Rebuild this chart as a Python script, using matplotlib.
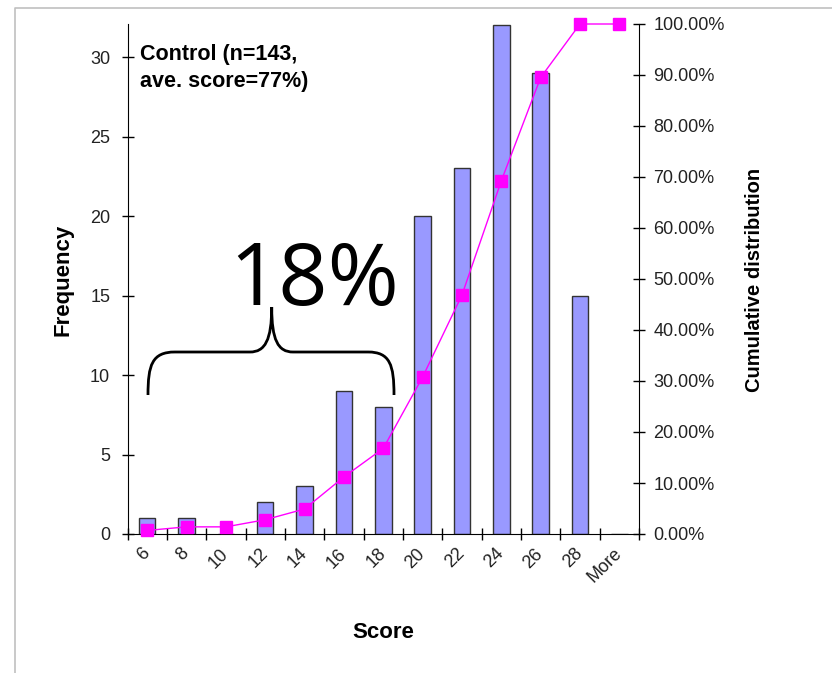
import matplotlib
matplotlib.use("Agg")
import matplotlib.pyplot as plt
import matplotlib.transforms as mtransforms
from matplotlib.path import Path
from matplotlib.patches import PathPatch
from matplotlib.lines import Line2D
from matplotlib.ticker import FixedLocator, FuncFormatter

# histogram of control group scores
bins = ["6", "8", "10", "12", "14", "16", "18", "20", "22", "24", "26", "28", "More"]
frequency = [1, 1, 0, 2, 3, 9, 8, 20, 23, 32, 29, 15, 0]
cumulative = [0.70, 1.40, 1.40, 2.80, 4.90, 11.19, 16.78, 30.77, 46.85, 69.23, 89.51, 100.0, 100.0]

W, H = 832, 673
fig = plt.figure(figsize=(W / 100, H / 100), dpi=100)

def px(x, y):
    # pixel position (from top-left) -> figure fraction
    return x / W, 1 - y / H

# light gray frame along top and left
fig.add_artist(Line2D([15 / W, 15 / W, 1], [0, 1 - 8 / H, 1 - 8 / H],
                      transform=fig.transFigure, color="#c0c0c0", lw=1.2))

left, right, top, bottom = 127.5, 639, 24, 534
ax = fig.add_axes([left / W, 1 - bottom / H, (right - left) / W, (bottom - top) / H])

x = list(range(len(bins)))
ax.bar(x, frequency, width=0.42, color="#9999ff", edgecolor="#333333", linewidth=1, zorder=2)
ax.set_xlim(-0.5, len(bins) - 0.5)
ax.set_ylim(0, 32.08)
ax.set_yticks([0, 5, 10, 15, 20, 25, 30])

for s in ["top", "right"]:
    ax.spines[s].set_visible(False)
ax.spines["left"].set_color("black")
ax.spines["bottom"].set_color("black")

tick_font = dict(family="Liberation Sans", size=13, color="#222222")

ax.tick_params(axis="y", direction="inout", length=9, width=1, pad=8)
for lab in ax.get_yticklabels():
    lab.set(**tick_font)

# category labels at centers, tick marks on the boundaries
ax.set_xticks(x)
ax.set_xticklabels(bins, rotation=45, ha="right", va="top", rotation_mode="anchor", **tick_font)
ax.tick_params(axis="x", which="major", length=0, pad=8)
ax.xaxis.set_minor_locator(FixedLocator([i - 0.5 for i in range(len(bins) + 1)]))
ax.tick_params(axis="x", which="minor", direction="inout", length=9, width=1)
offset = mtransforms.ScaledTranslation(-6 / 100, 0, fig.dpi_scale_trans)
for lab in ax.get_xticklabels():
    lab.set_transform(lab.get_transform() + offset)

ax2 = ax.twinx()
ax2.plot(x, cumulative, color="#ff00ff", lw=1, marker="s", markersize=9,
         markerfacecolor="#ff00ff", markeredgecolor="#ff00ff", clip_on=False, zorder=3)
ax2.set_ylim(0, 100)
ax2.set_yticks(range(0, 101, 10))
ax2.yaxis.set_major_formatter(FuncFormatter(lambda v, p: f"{v:.2f}%"))
for s in ["top", "left", "bottom"]:
    ax2.spines[s].set_visible(False)
ax2.spines["right"].set_color("black")
ax2.tick_params(axis="y", direction="inout", length=9, width=1, pad=6)
for lab in ax2.get_yticklabels():
    lab.set(**tick_font)

label_font = dict(family="Liberation Sans", weight="bold", color="black")
fig.text(*px(63, 280), "Frequency", rotation=90, ha="center", va="center", size=16, **label_font)
fig.text(*px(383, 632), "Score", ha="center", va="center", size=16, **label_font)
fig.text(*px(755, 280), "Cumulative distribution", rotation=90, ha="center", va="center",
         size=14.5, **label_font)
fig.text(*px(140, 44), "Control (n=143,\nave. score=77%)", ha="left", va="top",
         size=15.5, linespacing=1.4, **label_font)

# brace over the low-score bins
verts = [(148, 395), (148, 365), (152, 352), (175, 352),
         (250, 352),
         (265, 352), (271.7, 340), (271.7, 307),
         (271.7, 340), (278, 352), (293, 352),
         (368, 352),
         (390, 352), (394, 365), (394, 395)]
codes = [Path.MOVETO, Path.CURVE4, Path.CURVE4, Path.CURVE4,
         Path.LINETO,
         Path.CURVE4, Path.CURVE4, Path.CURVE4,
         Path.CURVE4, Path.CURVE4, Path.CURVE4,
         Path.LINETO,
         Path.CURVE4, Path.CURVE4, Path.CURVE4]
brace = Path([px(a, b) for a, b in verts], codes)
fig.add_artist(PathPatch(brace, transform=fig.transFigure, fill=False, lw=2, color="black"))
fig.text(*px(314, 305), "18%", ha="center", va="baseline", family="Open Sans", size=62, color="black")

fig.savefig("out.png", dpi=100)
